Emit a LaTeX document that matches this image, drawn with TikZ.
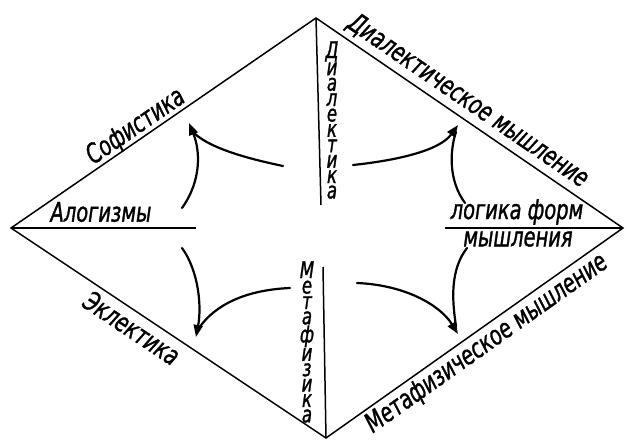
\documentclass[tikz,border=0pt]{standalone}
\usepackage{fontspec}
\newfontfamily\gost[FakeStretch=0.72,FakeBold=1.2]{DejaVu Sans}
\usetikzlibrary{arrows.meta}
\begin{document}
\begin{tikzpicture}[x=1pt,y=-1pt,
  edge/.style={line width=1.5pt},
  curvy/.style={line width=2.2pt, line cap=round},
  arr/.style={curvy,-{Triangle[length=12pt,width=9pt]}},
  lbl/.style={font=\gost\itshape\fontsize{27}{30}\selectfont, inner sep=0pt},
  stackl/.style={font=\gost\itshape\fontsize{23}{15.4}\selectfont, align=center, inner sep=0pt}]
\useasboundingbox (0,0) rectangle (627,441);
% diamond
\coordinate (T) at (316,18);
\coordinate (L) at (11,228);
\coordinate (B) at (326,438);
\coordinate (R) at (623,228);
\draw[edge, line join=miter] (T) -- (R) -- (B) -- (L) -- cycle;
% axes
\coordinate (vt2) at (321,205);
\coordinate (vb1) at (323,267);
\coordinate (hl2) at (196,228);
\coordinate (hr1) at (445,228);
\draw[edge] (T) -- (vt2);
\draw[edge] (vb1) -- (B);
\draw[edge] (L) -- (hl2);
\draw[edge] (hr1) -- (R);
% labels
\node[lbl, rotate=34.5] (sof) at (136,127) {Софистика};
\node[lbl] (alog) at (101,212) {Алогизмы};
\node[lbl, rotate=-34.4] (dm) at (468,101) {Диалектическое мышление};
\node[lbl] (lf) at (517,212) {логика форм};
\node[lbl] (mysh) at (518,239) {мышления};
\node[lbl, rotate=-33.7] (ekl) at (132,328) {Эклектика};
\node[lbl, rotate=35.3] (mm) at (487,344) {Метафизическое мышление};
\node[stackl] (dial) at (332,120) {Д\\и\\а\\л\\е\\к\\т\\и\\к\\а};
\node[stackl] (meta) at (307,342) {М\\е\\т\\а\\ф\\и\\з\\и\\к\\а};
% arrows: upper-left
\coordinate (ulA) at (283,166);
\coordinate (ulB) at (182,208);
\coordinate (ulT) at (189,123);
\draw[curvy] (ulA) .. controls (235,156) and (205,145) .. (192,131);
\draw[arr] (ulB) .. controls (202,180) and (200,150) .. (ulT);
% upper-right
\coordinate (urA) at (353,165);
\coordinate (urB) at (465,203);
\coordinate (urT) at (458,125);
\draw[arr] (urA) .. controls (400,160) and (440,150) .. (urT);
\draw[curvy] (urB) .. controls (448,180) and (450,150) .. (456,132);
% lower-left
\coordinate (llA) at (182,248);
\coordinate (llB) at (290,288);
\coordinate (llT) at (196,337);
\draw[arr] (llA) .. controls (198,270) and (202,305) .. (llT);
\draw[curvy] (llB) .. controls (245,290) and (215,305) .. (199,328);
% lower-right
\coordinate (lrA) at (357,283);
\coordinate (lrB) at (467,248);
\coordinate (lrT) at (458,334);
\draw[arr] (lrA) .. controls (405,285) and (440,305) .. (lrT);
\draw[curvy] (lrB) .. controls (450,270) and (452,300) .. (456,326);
\end{tikzpicture}
\end{document}
